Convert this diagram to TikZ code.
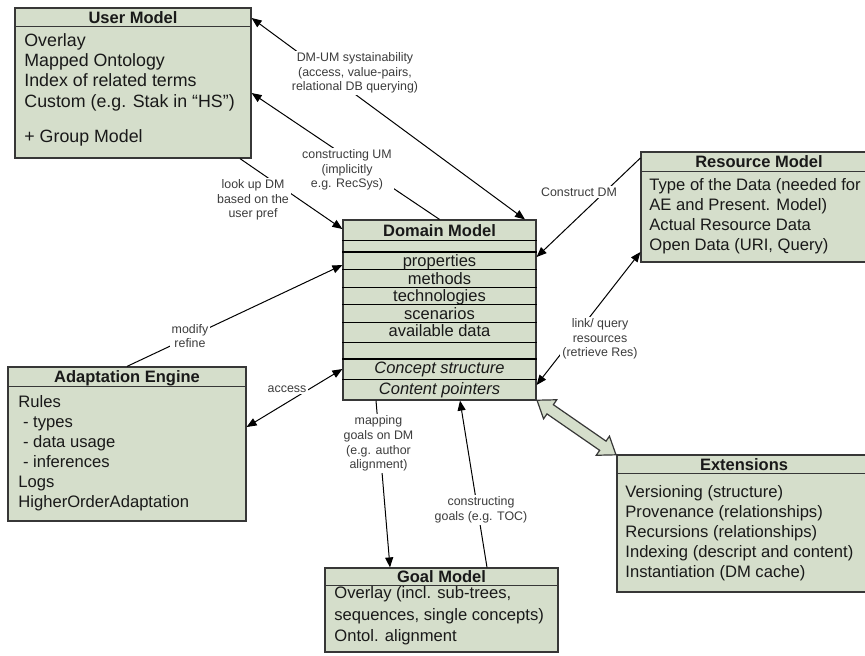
\documentclass[tikz,border=0pt]{standalone}
\usepackage{fontspec}
\setmainfont{Liberation Sans}
\usetikzlibrary{arrows.meta,shapes.arrows,shadows,calc}
\definecolor{boxFill}{RGB}{213,222,203}
\definecolor{boxLine}{RGB}{55,55,55}
\definecolor{textColor}{RGB}{25,25,25}
\definecolor{lblColor}{RGB}{60,60,60}
\begin{document}
\begin{tikzpicture}[x=0.5pt,y=-0.5pt,
  box/.style={draw=boxLine,fill=boxFill,line width=0.6pt,inner sep=0pt,
    drop shadow={shadow xshift=0.7pt,shadow yshift=-0.7pt,opacity=0.7,fill=black!70}},
  sep/.style={draw=boxLine,line width=0.5pt},
  rowsep/.style={draw=black,line width=0.5pt},
  rowsepthick/.style={draw=black,line width=0.9pt},
  hdr/.style={anchor=base,inner sep=0pt,text=textColor,font=\fontsize{8.25}{10}\selectfont\bfseries},
  body/.style={anchor=north west,inner sep=0pt,align=left,text=textColor,font=\fontsize{8.3}{10}\selectfont},
  row/.style={anchor=base,inner sep=0pt,text=textColor,font=\fontsize{8.25}{10}\selectfont},
  lbl/.style={fill=white,inner sep=1pt,align=center,text=lblColor,font=\fontsize{6.2}{7.3}\selectfont},
  arr/.style={draw=black,line width=0.5pt,>={Triangle[length=5pt,width=4pt]}}]
\path[use as bounding box,fill=white] (0,0) rectangle (865,655);

\node[box,minimum width=118pt,minimum height=75pt] (um) at (133,83) {};
\node[box,minimum width=118pt,minimum height=55pt] (rm) at (759,207) {};
\node[box,minimum width=96.5pt,minimum height=90pt] (dm) at (439.5,310) {};
\node[box,minimum width=119pt,minimum height=77pt] (ae) at (127,444) {};
\node[box,minimum width=127pt,minimum height=68.5pt] (ext) at (744,523.5) {};
\node[box,minimum width=116.5pt,minimum height=42pt] (gm) at (441.5,610) {};

\draw[sep] (um.west |- 0,26) -- (um.east |- 0,26);
\draw[sep] (rm.west |- 0,171) -- (rm.east |- 0,171);
\draw[sep] (ae.west |- 0,386) -- (ae.east |- 0,386);
\draw[sep] (ext.west |- 0,473) -- (ext.east |- 0,473);
\draw[sep] (gm.west |- 0,585) -- (gm.east |- 0,585);

\draw[rowsep] (dm.west |- 0,240) -- (dm.east |- 0,240);
\draw[rowsepthick] (dm.west |- 0,252) -- (dm.east |- 0,252);
\draw[rowsep] (dm.west |- 0,269) -- (dm.east |- 0,269);
\draw[rowsep] (dm.west |- 0,287) -- (dm.east |- 0,287);
\draw[rowsep] (dm.west |- 0,304) -- (dm.east |- 0,304);
\draw[rowsep] (dm.west |- 0,322) -- (dm.east |- 0,322);
\draw[rowsep] (dm.west |- 0,342) -- (dm.east |- 0,342);
\draw[rowsepthick] (dm.west |- 0,359) -- (dm.east |- 0,359);
\draw[rowsep] (dm.west |- 0,379) -- (dm.east |- 0,379);

\node[hdr] (umtitle) at (133,23) {User Model};
\node[hdr] (rmtitle) at (759,167.5) {Resource Model};
\node[hdr] (dmtitle) at (439.5,236) {Domain Model};
\node[hdr] (aetitle) at (127,382.5) {Adaptation Engine};
\node[hdr] (exttitle) at (744,470) {Extensions};
\node[hdr] (gmtitle) at (441.5,582.5) {Goal Model};

\node[body,font=\fontsize{8.9}{10.15}\selectfont] (umtext) at (24,33) {Overlay\\Mapped Ontology\\Index of related terms\\Custom (e.g. Stak in “HS”)\\[7.3pt]+ Group Model};
\node[body] (rmtext) at (649,178) {Type of the Data (needed for\\AE and Present. Model)\\Actual Resource Data\\Open Data (URI, Query)};
\node[body] (aetext) at (18,395) {Rules\\\ - types\\\ - data usage\\\ - inferences\\Logs\\HigherOrderAdaptation};
\node[body] (exttext) at (625,485) {Versioning (structure)\\Provenance (relationships)\\Recursions (relationships)\\Indexing (descript and content)\\Instantiation (DM cache)};
\node[body,font=\fontsize{8.3}{10.85}\selectfont] (gmtext) at (334,586) {Overlay (incl. sub-trees,\\sequences, single concepts)\\Ontol. alignment};

\node[row] (dmprop) at (439.5,266) {properties};
\node[row] (dmmeth) at (439.5,284) {methods};
\node[row] (dmtech) at (439.5,301) {technologies};
\node[row] (dmscen) at (439.5,319) {scenarios};
\node[row] (dmdata) at (439.5,336) {available data};
\node[row] (dmconc) at (439.5,373) {\itshape Concept structure};
\node[row] (dmcont) at (439.5,394) {\itshape Content pointers};

\node[double arrow,draw=boxLine,fill=boxFill,line width=0.6pt,rotate=-34.66,minimum height=48pt,
  inner xsep=0pt,inner ysep=2.5pt,double arrow head extend=3pt,double arrow tip angle=72] (extarrow)
  at ($(dm.south east)!0.5!(ext.north west)$) {};

\draw[arr,<->] (um.east |- 0,18) -- (dm.north -| 525,0);
\draw[arr,->] (dm.north) -- (um.east |- 0,93);
\draw[arr,->] (um.south -| 240,0) -- (dm.west |- 0,229);
\draw[arr,->] (rm.west |- 0,158) -- (dm.east |- 0,257);
\draw[arr,<->] (dm.east |- 0,385) -- (rm.west |- 0,252);
\draw[arr,->] (ae.north) -- (dm.west |- 0,265);
\draw[arr,<->] (ae.east |- 0,427) -- (dm.west |- 0,369);
\draw[arr,->] (dm.south -| 376,0) -- (gm.north -| 390,0);
\draw[arr,->] (gm.north -| 487,0) -- (dm.south -| 460,0);

\node[lbl] (lblsustain) at (355,73) {DM-UM systainability\\(access, value-pairs,\\relational DB querying)};
\node[lbl] (lblbuildum) at (347,170) {constructing UM\\(implicitly\\e.g. RecSys)};
\node[lbl] (lbllookup) at (253,200) {look up DM\\based on the\\user pref};
\node[lbl] (lblbuilddm) at (579,192) {Construct DM};
\node[lbl] (lbllink) at (600,339) {link/ query\\resources\\(retrieve Res)};
\node[lbl] (lblmodify) at (190,336) {modify\\refine};
\node[lbl] (lblaccess) at (287,389) {access};
\node[lbl] (lblmapping) at (378.5,443.5) {mapping\\goals on DM\\(e.g. author\\alignment)};
\node[lbl] (lblgoals) at (481,510) {constructing\\goals (e.g. TOC)};
\end{tikzpicture}
\end{document}
